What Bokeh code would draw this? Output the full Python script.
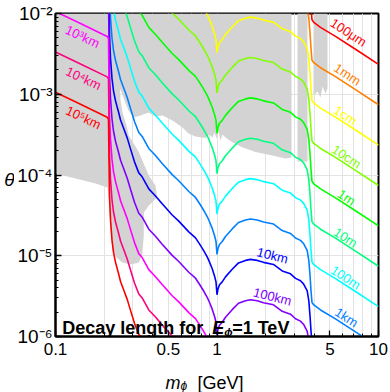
import numpy as np
from bokeh.plotting import figure
from bokeh.layouts import row, column
from bokeh.models import FixedTicker, Label, ColumnDataSource, Range1d
from bokeh.core.properties import value
from bokeh.embed import file_html
from bokeh.resources import INLINE

# ---- data ----
# decay-length contour for L = 1 km (m_phi in GeV, mixing theta)
m_gev = [0.1, 0.145, 0.209, 0.2129, 0.2145, 0.216, 0.2192, 0.2239, 0.2287, 0.2353,
         0.2456, 0.2527, 0.2638, 0.278, 0.2914, 0.3084, 0.3279, 0.3441, 0.3608, 0.3782,
         0.4161, 0.4577, 0.528, 0.5777, 0.6689, 0.736, 0.7791, 0.8287, 0.8695, 0.8923,
         0.934, 0.9649, 0.9858, 1.0, 1.0144, 1.0363, 1.077, 1.1287, 1.2418, 1.3586,
         1.5017, 1.6125, 1.7742, 1.9409, 2.2384, 2.5331, 2.851, 3.0624, 3.2885, 3.4325,
         3.6192, 3.7026, 3.767, 3.8194, 3.8743, 3.9754, 4.3752, 5.4162, 7.2044, 10.0]
theta_1km = [3.34e-1, 2.34e-1, 1.64e-1, 1.55e-1, 4.53e-2, 1.67e-2, 8.67e-3, 4.90e-3, 3.48e-3, 2.62e-3,
             1.91e-3, 1.52e-3, 1.21e-3, 9.12e-4, 6.66e-4, 4.60e-4, 3.36e-4, 3.00e-4, 2.53e-4, 2.13e-4,
             1.74e-4, 1.39e-4, 1.01e-4, 8.55e-5, 6.25e-5, 5.27e-5, 4.44e-5, 3.63e-5, 3.06e-5, 2.73e-5,
             2.18e-5, 1.78e-5, 1.50e-5, 1.04e-5, 1.23e-5, 1.38e-5, 1.50e-5, 1.73e-5, 2.15e-5, 2.58e-5,
             2.77e-5, 2.85e-5, 2.77e-5, 2.62e-5, 2.47e-5, 2.05e-5, 1.89e-5, 1.66e-5, 1.55e-5, 1.42e-5,
             1.16e-5, 8.73e-6, 5.69e-6, 3.71e-6, 2.64e-6, 2.46e-6, 2.13e-6, 1.65e-6, 1.14e-6, 7.41e-7]

length_names = ["100μm", "1mm", "1cm", "10cm", "1m", "10m", "100m", "1km",
                "10km", "100km", "10³km", "10⁴km", "10⁵km"]
length_km = [1e-7, 1e-6, 1e-5, 1e-4, 1e-3, 1e-2, 1e-1, 1.0, 1e1, 1e2, 1e3, 1e4, 1e5]
line_colors = ["#FF0000", "#FF8000", "#FFFF00", "#80FF00", "#00FF00", "#00FF80", "#00FFFF",
               "#0080FF", "#0000FF", "#8000FF", "#FF00FF", "#FF0080", "#FF0000"]

# curve label anchors (data coords) and rotation
label_m = [6.52, 6.42, 6.25, 6.33, 6.33, 6.25, 6.25, 6.33, 2.207, 2.207, 0.147, 0.149, 0.149]
label_theta = [5.82e-3, 1.76e-3, 5.46e-4, 1.69e-4, 5.27e-5, 1.68e-5, 5.38e-6, 1.72e-6,
               1.007e-5, 3.13e-6, 5.19e-3, 1.57e-3, 5.15e-4]
label_angle = [-33, -33, -33, -33, -33, -33, -33, -33, -14, -14, -25, -25, -25]

# excluded (gray) regions
gray_m = [
    [0.1, 2.8925, 2.8925, 2.6555, 2.1963, 1.7317, 1.4322, 1.2418, 1.1287, 1.0818, 1.0512, 1.0217,
     0.9929, 0.9649, 0.9378, 0.8986, 0.8488, 0.7360, 0.6662, 0.6115, 0.5303, 0.4598, 0.4161,
     0.3766, 0.3360, 0.3041, 0.2831, 0.2675, 0.2563, 0.2508, 0.2527, 0.2600, 0.2752, 0.2843,
     0.3279, 0.3782, 0.4161, 0.4263, 0.3782, 0.3521, 0.3521, 0.3441, 0.3279, 0.2914, 0.2600,
     0.2386, 0.2254, 0.2192, 0.2145, 0.2099, 0.1769, 0.1491, 0.1],
    [3.1514, 3.634, 3.634, 3.1514],
    [3.9582, 4.834, 4.834, 4.698, 4.502, 4.3752, 4.1914, 3.9582],
]
gray_theta = [
    [1e-2, 1e-2, 1.65e-4, 1.60e-4, 1.74e-4, 1.92e-4, 2.21e-4, 2.55e-4, 2.91e-4, 3.17e-4, 2.67e-4,
     3.46e-4, 2.83e-4, 3.36e-4, 2.91e-4, 3.17e-4, 2.87e-4, 3.00e-4, 3.27e-4, 3.88e-4, 4.73e-4,
     5.45e-4, 5.30e-4, 5.94e-4, 5.45e-4, 5.15e-4, 6.29e-4, 8.37e-4, 1.051e-3, 1.178e-3, 8.37e-4,
     5.94e-4, 4.10e-4, 3.08e-4, 1.92e-4, 9.86e-5, 7.41e-5, 5.31e-5, 4.19e-5, 3.43e-5, 1.78e-5,
     1.01e-5, 8.25e-6, 7.79e-6, 8.25e-6, 9.51e-6, 1.16e-5, 2.05e-5, 4.83e-5, 7.00e-5, 7.85e-5,
     8.55e-5, 1.04e-4],
    [1e-2, 1e-2, 1.47e-4, 1.47e-4],
    [1e-2, 1e-2, 1.178e-3, 1.021e-3, 1.247e-3, 9.12e-4, 1.081e-3, 9.65e-4],
]

x_ticks = [0.1, 0.5, 1.0, 5.0, 10.0]
x_tick_labels = ["0.1", "0.5", "1", "5", "10"]
x_minor = [0.2, 0.3, 0.4, 0.6, 0.7, 0.8, 0.9, 2.0, 3.0, 4.0, 6.0, 7.0, 8.0, 9.0]
y_ticks = [1e-6, 1e-5, 1e-4, 1e-3, 1e-2]
y_tick_labels = ["10⁻⁶", "10⁻⁵", "10⁻⁴", "10⁻³", "10⁻²"]
y_minor = [k * d for d in [1e-6, 1e-5, 1e-4, 1e-3] for k in range(2, 10)]

FONT = "Liberation Sans"
PHI = "ϕ"

p = figure(width=376, height=370, x_axis_type="log", y_axis_type="log",
           x_range=Range1d(0.1, 10), y_range=Range1d(1e-6, 1e-2),
           output_backend="svg", toolbar_location=None,
           min_border_left=41, min_border_right=12, min_border_top=13, min_border_bottom=34)
p.outline_line_color = "black"
p.outline_line_width = 2
p.outline_line_alpha = 1.0
p.background_fill_color = "white"
p.border_fill_color = "white"

# grids
p.xgrid.ticker = FixedTicker(ticks=x_ticks + x_minor)
p.ygrid.ticker = FixedTicker(ticks=y_ticks)
for g in (p.xgrid[0], p.ygrid[0]):
    g.grid_line_color = "#e3e3e3"
    g.grid_line_width = 1

# axes
xa = p.xaxis[0]
xa.ticker = FixedTicker(ticks=x_ticks, minor_ticks=x_minor)
xa.major_label_overrides = dict(zip(x_ticks, x_tick_labels))
ya = p.yaxis[0]
ya.ticker = FixedTicker(ticks=y_ticks, minor_ticks=y_minor)
ya.major_label_overrides = dict(zip(y_ticks, y_tick_labels))
for ax in (xa, ya):
    ax.axis_line_color = "black"
    ax.axis_line_width = 2
    ax.major_tick_in = 6
    ax.major_tick_out = 0
    ax.minor_tick_in = 3
    ax.minor_tick_out = 0
    ax.major_tick_line_color = "black"
    ax.minor_tick_line_color = "black"
    ax.major_tick_line_width = 1.3
    ax.minor_tick_line_width = 1
    ax.major_label_text_font = FONT
    ax.major_label_text_color = "black"
xa.major_label_text_font_size = "17px"
xa.major_label_standoff = 6
ya.major_label_text_font_size = "19px"
ya.major_label_standoff = 3

# gray excluded regions
p.patches(xs=gray_m, ys=gray_theta, fill_color="#d3d3d3", line_color=None)

# decay-length contours: theta scales as sqrt(1 km / L)
for L, col in zip(length_km, line_colors):
    th = np.array(theta_1km) * np.sqrt(1.0 / L)
    p.line(m_gev, th, line_color=col, line_width=1.6)

src = ColumnDataSource(dict(x=label_m, y=label_theta, t=length_names, c=line_colors, a=label_angle))
p.text(x="x", y="y", text="t", text_color="c", angle="a", angle_units="deg", source=src,
       text_font=value(FONT), text_font_size="13px", text_align="center", text_baseline="middle")

# in-plot title: Decay length for E_phi = 1 TeV
t_m, t_th = 0.110, 1.257e-6
for txt, dx, dy, size, style in [("Decay length for ", 0, 0, "18px", "bold"),
                                  ("E", 150, 0, "18px", "bold italic"),
                                  (PHI, 162, -4, "11px", "bold italic"),
                                  ("=1 TeV", 170, 0, "18px", "bold")]:
    p.add_layout(Label(x=t_m, y=t_th, text=txt, x_offset=dx, y_offset=dy,
                       text_font=FONT, text_font_size=size, text_font_style=style,
                       text_color="black", text_baseline="alphabetic", text_align="left"))


def strip(w, h):
    f = figure(width=w, height=h, x_range=Range1d(0, w), y_range=Range1d(0, h),
               output_backend="svg", toolbar_location=None, min_border=0,
               x_axis_location=None, y_axis_location=None)
    f.outline_line_color = None
    f.grid.visible = False
    f.background_fill_color = "white"
    f.border_fill_color = "white"
    return f


# y-axis title (theta), upright italic
ylab = strip(14, 370)
ylab.text(x=[9], y=[180], text=["θ"], text_font=value(FONT), text_font_size="19px",
          text_font_style="italic", text_color="black", text_align="center", text_baseline="middle")

# x-axis title: m_phi [GeV]
xlab = strip(390, 22)
xlab.text(x=[165], y=[10], text=["m"], text_font=value(FONT), text_font_size="18px",
          text_font_style="italic", text_color="black", text_align="left", text_baseline="alphabetic")
xlab.text(x=[180], y=[7], text=[PHI], text_font=value(FONT), text_font_size="12px",
          text_font_style="italic", text_color="black", text_align="left", text_baseline="alphabetic")
xlab.text(x=[197], y=[10], text=["[GeV]"], text_font=value(FONT), text_font_size="18px",
          text_color="black", text_align="left", text_baseline="alphabetic")

layout = column(row(ylab, p), xlab)
open("out.html", "w").write(file_html(layout, INLINE))
